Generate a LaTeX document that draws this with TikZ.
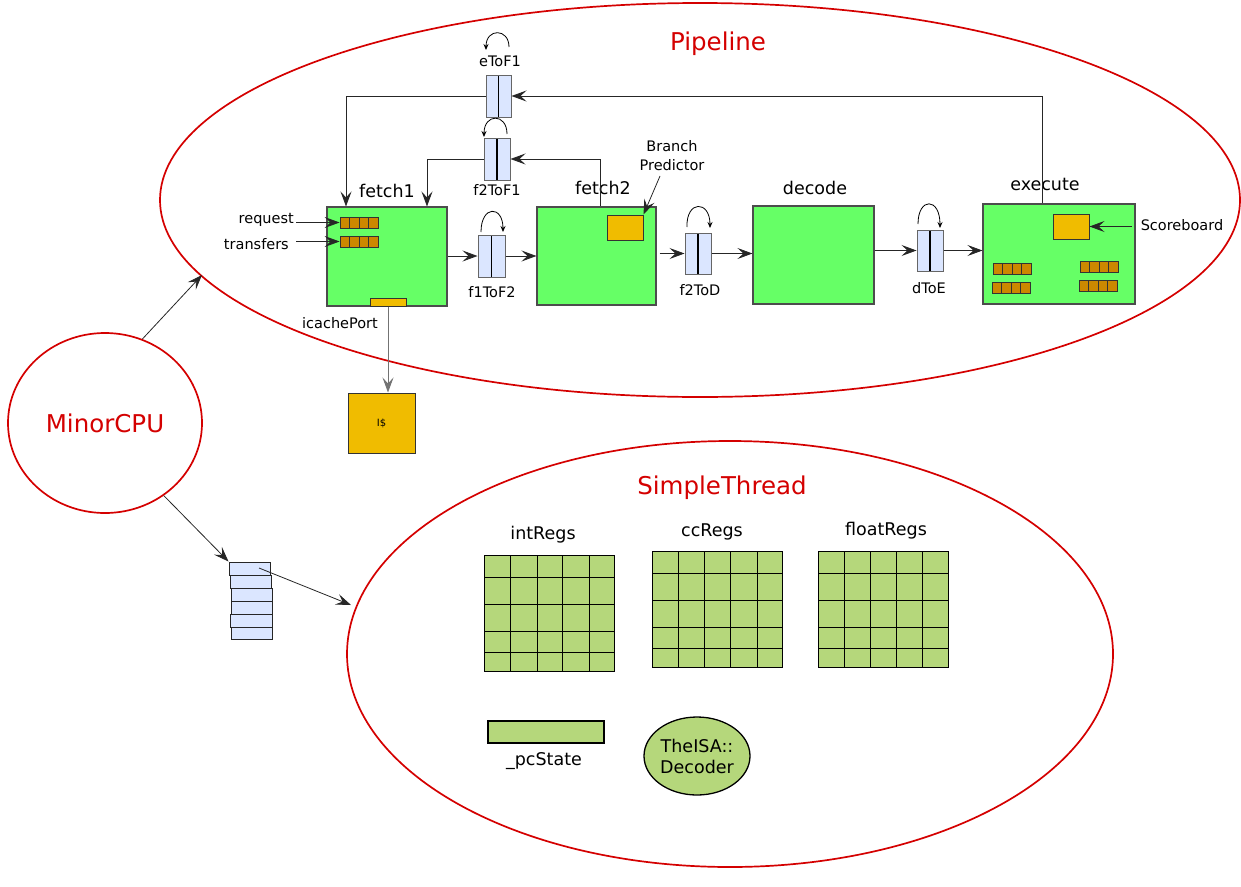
\documentclass[tikz,border=0pt]{standalone}
\usepackage{fontspec}
\setmainfont{DejaVu Sans}
\usetikzlibrary{arrows.meta,shapes.geometric,calc}
\definecolor{stagegreen}{RGB}{102,255,102}
\definecolor{latchblue}{RGB}{219,230,255}
\definecolor{cellbrown}{RGB}{204,136,0}
\definecolor{unityellow}{RGB}{240,188,0}
\definecolor{ellred}{RGB}{212,0,0}
\definecolor{reggreen}{RGB}{181,215,123}
\newcommand\bigf{\fontsize{24.5}{29}\selectfont}
\newcommand\medf{\fontsize{17.5}{21}\selectfont}
\newcommand\smf{\fontsize{14.5}{19}\selectfont}
\newcommand\tnf{\fontsize{10}{12}\selectfont}
\begin{document}
\begin{tikzpicture}[x=1pt,y=-1pt,
  redell/.style={draw=ellred,line width=1.7pt,ellipse,inner sep=0pt},
  title/.style={text=ellred,font=\bigf,inner sep=0pt},
  stagebox/.style={draw=black!70,fill=stagegreen,line width=1.1pt,inner sep=0pt},
  stagelbl/.style={font=\medf,inner sep=0pt},
  lbl/.style={font=\smf,inner sep=0pt},
  latch/.style={draw=black!60,fill=latchblue,line width=1pt,inner sep=0pt,
    minimum width=26pt,minimum height=42pt,
    path picture={\draw[black,line width=1.3pt] (path picture bounding box.north) -- (path picture bounding box.south);}},
  cellrow/.style={draw=black!80,fill=cellbrown,line width=0.9pt,inner sep=0pt,
    minimum width=38pt,minimum height=11pt,
    path picture={\foreach \i in {1,2,3}{\draw[black!80,line width=0.9pt]
      ($(path picture bounding box.north west)!\i/4!(path picture bounding box.north east)$) --
      ($(path picture bounding box.south west)!\i/4!(path picture bounding box.south east)$);}}},
  unit/.style={draw=black!80,fill=unityellow,line width=1pt,inner sep=0pt},
  arr/.style={-{Stealth[length=15pt,width=11pt,inset=6pt]},line width=0.8pt,draw=black!85},
  loop/.style={-{Stealth[length=6pt,width=5pt,inset=2pt]},line width=0.8pt},
  regfile/.style={draw=black,fill=reggreen,line width=1pt,inner sep=0pt,minimum width=130pt,minimum height=116pt},
  stackbox/.style={draw=black!85,fill=latchblue,line width=1pt,inner sep=0pt,minimum width=41pt,minimum height=13pt}
]
\useasboundingbox (0,0) rectangle (1241,886);

% ellipses
\node[redell,minimum width=1080pt,minimum height=394pt] (pipeline) at (700,200) {};
\node[title] (pipetitle) at (718,44) {Pipeline};
\node[redell,minimum width=194pt,minimum height=180pt,text=ellred,font=\bigf] (cpu) at (105,423) {MinorCPU};
\node[redell,minimum width=766pt,minimum height=426pt] (thread) at (730,654) {};
\node[title] (threadtitle) at (722,488) {SimpleThread};

% stages
\node[stagebox,minimum width=120pt,minimum height=99pt] (fetch1) at (387,256.5) {};
\node[stagebox,minimum width=119pt,minimum height=98pt] (fetch2) at (596.5,256) {};
\node[stagebox,minimum width=121pt,minimum height=98pt] (decode) at (813.5,255) {};
\node[stagebox,minimum width=152pt,minimum height=100pt] (execute) at (1059,254) {};
\node[stagelbl] (fetch1lbl) at (387,191) {fetch1};
\node[stagelbl] (fetch2lbl) at (603,188) {fetch2};
\node[stagelbl] (decodelbl) at (815,188) {decode};
\node[stagelbl] (executelbl) at (1045,184) {execute};

% latches
\node[latch,minimum width=27pt] (f1ToF2) at (491.5,256) {};
\node[latch] (f2ToF1) at (497,159) {};
\node[latch,minimum width=25pt] (eToF1) at (498.5,96) {};
\node[latch,minimum height=41pt] (f2ToD) at (698,253.5) {};
\node[latch,minimum height=41pt] (dToE) at (930,250.5) {};
\node[lbl] (f1ToF2lbl) at (492,292) {f1ToF2};
\node[lbl] (f2ToF1lbl) at (497,190) {f2ToF1};
\node[lbl] (eToF1lbl) at (500,61) {eToF1};
\node[lbl] (f2ToDlbl) at (700,290) {f2ToD};
\node[lbl] (dToElbl) at (929,288) {dToE};

% self loops
\draw[loop] (481,232) .. controls (481,205) and (503,205) .. (503,232);
\draw[loop] (687,227) .. controls (686,200) and (710,200) .. (710,228);
\draw[loop] (918,224) .. controls (918,197) and (940,197) .. (940,228);
\draw[loop] (507,134) .. controls (507,113) and (484,113) .. (484,137);
\draw[loop] (509,47) .. controls (509,28) and (486,28) .. (486,50);

% forward connectors
\draw[arr] (fetch1.east |- f1ToF2.west) -- (f1ToF2.west);
\draw[arr] (f1ToF2.east) -- (f1ToF2.east -| fetch2.west);
\draw[arr] ([xshift=3pt]fetch2.east |- f2ToD.west) -- (f2ToD.west);
\draw[arr] (f2ToD.east) -- (f2ToD.east -| decode.west);
\draw[arr] (decode.east |- dToE.west) -- (dToE.west);
\draw[arr] (dToE.east) -- (dToE.east -| execute.west);

% feedback connectors
\draw[arr] ([xshift=3.5pt]fetch2.north) |- (f2ToF1.east);
\draw[arr] (f2ToF1.west) -| ([xshift=40pt]fetch1.north);
\draw[arr] ([xshift=-17pt]execute.north) |- (eToF1.east);
\draw[arr] (eToF1.west) -| ([xshift=-41pt]fetch1.north);

% fetch1 internals
\node[cellrow] (reqrow) at (359,222.5) {};
\node[cellrow] (xferrow) at (359,241.5) {};
\coordinate (reqsrc) at (296,222.5);
\coordinate (xfersrc) at (296,241.5);
\draw[arr] (reqsrc) -- (reqrow.west);
\draw[arr] (xfersrc) -- (xferrow.west);
\node[lbl,anchor=east] (reqlbl) at (294,220) {request};
\node[lbl,anchor=east] (xferlbl) at (289,244) {transfers};
\node[unit,minimum width=36pt,minimum height=8pt] (icport) at (388,302) {};
\node[lbl] (icportlbl) at (340,323) {icachePort};
\node[unit,minimum width=67pt,minimum height=60pt,font=\tnf] (icache) at (381.5,423) {I\$};
\draw[arr,draw=black!55] (icport.south) -- (icport.south |- icache.north);

% fetch2 internals
\node[unit,minimum width=36pt,minimum height=25pt] (bp) at (625,227.5) {};
\node[lbl,align=center] (bplbl) at (672,156) {Branch\\Predictor};
\coordinate (bpsrc) at (660,176);
\draw[arr] (bpsrc) -- (bp.north east);

% execute internals
\node[unit,minimum width=36pt,minimum height=25pt] (sb) at (1071,226.5) {};
\node[lbl] (sblbl) at (1182,225) {Scoreboard};
\coordinate (sbsrc) at (1132,226.5);
\draw[arr] (sbsrc) -- (sb.east);
\node[cellrow] (ex1) at (1012,269) {};
\node[cellrow] (ex2) at (1011,288) {};
\node[cellrow] (ex3) at (1099,267) {};
\node[cellrow] (ex4) at (1098,286) {};

% cpu arrows and stack
\coordinate (pipein) at (202,275);
\draw[arr] (cpu.66.6) -- (pipein);
\node[stackbox] (s1) at (249.5,568.5) {};
\node[stackbox] (s2) at (250.5,581.5) {};
\node[stackbox] (s3) at (251.5,594.5) {};
\node[stackbox] (s4) at (251.5,607.5) {};
\node[stackbox,minimum width=42pt] (s5) at (251,620.5) {};
\node[stackbox,minimum height=12pt] (s6) at (251.5,633) {};
\draw[arr] (cpu.-51.5) -- (s1.north west);
\coordinate (s1pt) at (259,568);
\coordinate (threadin) at (351,605);
\draw[arr] (s1pt) -- (threadin);

% register files
\node[regfile] (intRegs) at (549,613) {};
\foreach \x in {510,537,562,589} \draw[line width=0.9pt] (\x,555) -- (\x,671);
\foreach \y in {577,604,631,652} \draw[line width=0.9pt] (484,\y) -- (614,\y);
\node[stagelbl] (intlbl) at (543,535) {intRegs};

\node[regfile] (ccRegs) at (717,609) {};
\foreach \x in {678,704,730,757} \draw[line width=0.9pt] (\x,551) -- (\x,667);
\foreach \y in {573,600,627,648} \draw[line width=0.9pt] (652,\y) -- (782,\y);
\node[stagelbl] (cclbl) at (712,532) {ccRegs};

\node[regfile] (floatRegs) at (883,609) {};
\foreach \x in {844,870,896,922} \draw[line width=0.9pt] (\x,551) -- (\x,667);
\foreach \y in {573,600,627,648} \draw[line width=0.9pt] (818,\y) -- (948,\y);
\node[stagelbl] (floatlbl) at (886,531) {floatRegs};

\node[draw=black,fill=reggreen,line width=1.3pt,inner sep=0pt,minimum width=116pt,minimum height=22pt] (pcState) at (546,732) {};
\node[stagelbl] (pclbl) at (544,761) {\_pcState};
\node[draw=black,fill=reggreen,line width=1.3pt,ellipse,inner sep=0pt,minimum width=106pt,minimum height=78pt,align=center,font=\medf] (decoder) at (697,756) {TheISA::\\Decoder};
\end{tikzpicture}
\end{document}
